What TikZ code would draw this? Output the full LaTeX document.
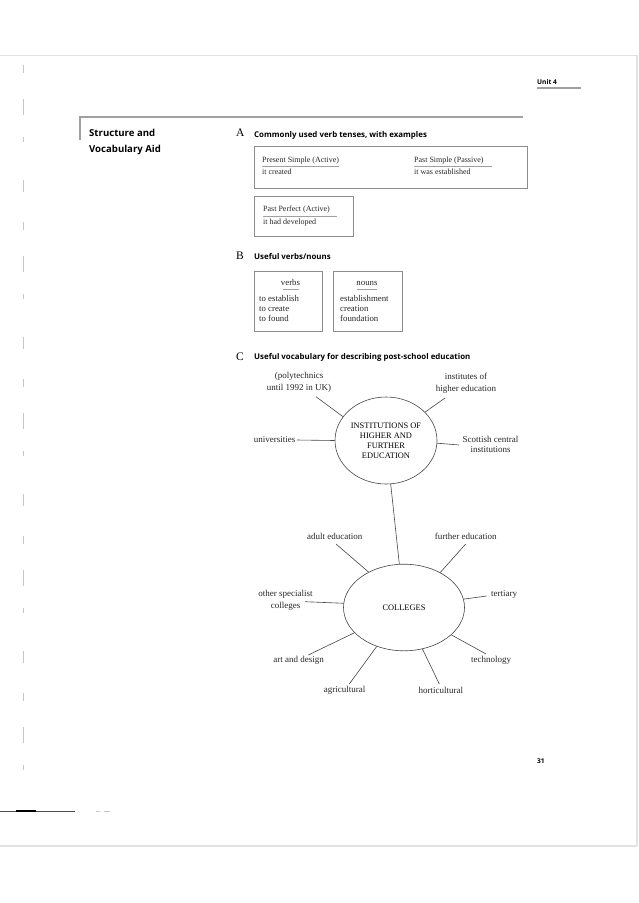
\documentclass[tikz,border=0pt]{standalone}
\usepackage{fontspec}
\setmainfont{Liberation Serif}
\newfontfamily\hsans{Open Sans}
\usetikzlibrary{shapes.geometric}
\definecolor{pageline}{HTML}{E2E2E2}
\definecolor{framegray}{HTML}{A0A0A0}
\definecolor{boxgray}{HTML}{8C8C8C}
\definecolor{ink}{HTML}{262626}
\definecolor{spoke}{HTML}{454545}
\definecolor{marks}{HTML}{C6C6C6}
\begin{document}
\begin{tikzpicture}[x=1pt,y=-1pt,
  boxtxt/.style={inner sep=0, anchor=west, text height=5.4pt, text depth=1.6pt, font=\fontsize{8}{9}\selectfont, text=ink},
  btxt/.style={inner sep=0, anchor=west, text height=5.8pt, text depth=1.8pt, font=\fontsize{8.8}{10}\selectfont, text=ink},
  bhead/.style={inner sep=0, text height=5.8pt, text depth=1.8pt, font=\fontsize{8.8}{10}\selectfont, text=ink},
  head/.style={inner sep=0, anchor=west, text height=5.8pt, text depth=1.6pt, font=\hsans\bfseries\fontsize{7.9}{9}\selectfont},
  bighead/.style={inner sep=0, anchor=west, text height=7pt, text depth=2pt, font=\hsans\bfseries\fontsize{9.6}{12}\selectfont},
  letter/.style={inner sep=0, anchor=west, text height=7.5pt, text depth=0pt, font=\fontsize{11.5}{12}\selectfont},
  frame/.style={draw=boxgray, line width=0.8pt, inner sep=0},
  uline/.style={draw=framegray, line width=0.7pt},
  bubble/.style={ellipse, draw=spoke, line width=0.6pt, inner sep=0},
  lab/.style={inner sep=0, align=center, font=\fontsize{9}{12}\selectfont, text=ink},
  caps/.style={inner sep=0, align=center, font=\fontsize{8.4}{10}\selectfont, text=black},
  spokeline/.style={draw=spoke, line width=0.6pt},
  small/.style={inner sep=0, anchor=west, text height=5pt, text depth=1.5pt, font=\hsans\bfseries\fontsize{6.6}{8}\selectfont},
]
\useasboundingbox (0,0) rectangle (638,903);
% page edges
\draw[pageline, line width=1.6pt] (0,55.5) -- (637,55.5) -- (637,846);
\draw[pageline, line width=1.6pt] (0,846) -- (637,846);
\draw[marks, line width=0.6pt, dash pattern=on 8pt off 26pt on 16pt off 22pt on 5pt off 38pt on 12pt off 30pt] (23,65) -- (23,780);
\draw[black!70, line width=0.9pt] (0,811) -- (75,811);
\draw[black, line width=1.8pt] (16,811) -- (36,811);
\draw[marks, line width=0.7pt] (96,811) -- (100,811) (104,811) -- (110,811);

% header
\node[small] (unit) at (537,82.5) {Unit 4};
\draw[framegray, line width=1.5pt] (537,88) -- (581,88);
\draw[framegray, line width=1.2pt] (80,140) -- (80,117) -- (523,117);
\node[bighead] (sva1) at (89,134) {Structure and};
\node[bighead] (sva2) at (89,150) {Vocabulary Aid};

% Section A
\node[letter] (la) at (236,133) {A};
\node[head] (ha) at (254,135.5) {Commonly used verb tenses, with examples};
\node[frame, minimum width=273pt, minimum height=42pt] (tensebox) at (390.5,167) {};
\node[boxtxt] (ps) at (262,160.5) {Present Simple (Active)};
\draw[uline] (262,166.5) -- (339,166.5);
\node[boxtxt] (ps2) at (262,173) {it created};
\node[boxtxt] (pas) at (414,160.5) {Past Simple (Passive)};
\draw[uline] (414,166.5) -- (492,166.5);
\node[boxtxt] (pas2) at (414,173) {it was established};
\node[frame, minimum width=99pt, minimum height=40pt] (perfbox) at (303.5,216) {};
\node[boxtxt] (pp) at (263,210) {Past Perfect (Active)};
\draw[uline] (263,216.3) -- (337,216.3);
\node[boxtxt] (pp2) at (263,222.5) {it had developed};

% Section B
\node[letter] (lb) at (236,256) {B};
\node[head] (hb) at (254,257) {Useful verbs/nouns};
\node[frame, minimum width=68pt, minimum height=60pt] (verbbox) at (288,301) {};
\node[frame, minimum width=69pt, minimum height=60pt] (nounbox) at (367.5,301) {};
\node[bhead] (verbs) at (290.5,283) {verbs};
\draw[uline] (282.5,289) -- (298.5,289);
\node[bhead] (nouns) at (367,283) {nouns};
\draw[uline] (357,289) -- (377,289);
\node[btxt] (v1) at (259,299) {to establish};
\node[btxt] (v2) at (259,309) {to create};
\node[btxt] (v3) at (259,319) {to found};
\node[btxt] (n1) at (340,299) {establishment};
\node[btxt] (n2) at (340,309) {creation};
\node[btxt] (n3) at (340,319) {foundation};

% Section C
\node[letter] (lc) at (236,356.5) {C};
\node[head] (hc) at (254,357.5) {Useful vocabulary for describing post-school education};

\node[bubble, minimum width=102pt, minimum height=87pt] (inst) at (386,440.5) {};
\node[caps] (insttext) at (386,440.5) {INSTITUTIONS OF\\HIGHER AND\\FURTHER\\EDUCATION};
\node[bubble, minimum width=121pt, minimum height=86.6pt] (coll) at (404,607.5) {};
\node[caps] (colltext) at (404,607.5) {COLLEGES};
\draw[spokeline] (inst) -- (coll);

% labels round the institutions
\node[lab] (poly) at (299,382) {(polytechnics\\until 1992 in UK)};
\node[lab] (iohe) at (466,383) {institutes of\\higher education};
\node[lab, anchor=east] (univ) at (295.5,440) {universities};
\node[lab, font=\fontsize{9}{10.3}\selectfont] (scot) at (490.5,444.5) {Scottish central\\institutions};
\coordinate (cpoly) at (316,396.7);
\coordinate (ciohe) at (445,398);
\coordinate (cuniv) at (297,440);
\coordinate (cscot) at (459,445);
\draw[spokeline] (cpoly) -- (inst.151);
\draw[spokeline] (ciohe) -- (inst.36);
\draw[spokeline] (cuniv) -- (inst.180);
\draw[spokeline] (cscot) -- (inst.-3);

% labels round the colleges
\node[lab] (adult) at (334.7,536.7) {adult education};
\node[lab] (further) at (465.7,536.7) {further education};
\node[lab] (other) at (285.5,600.3) {other specialist\\colleges};
\node[lab] (tert) at (504,594.3) {tertiary};
\node[lab] (art) at (298.7,660.7) {art and design};
\node[lab] (agri) at (344.7,690.7) {agricultural};
\node[lab] (hort) at (440.8,690) {horticultural};
\node[lab] (tech) at (491.2,660.7) {technology};
\coordinate (cadult) at (336,544);
\coordinate (cfurther) at (465.7,544);
\coordinate (cother) at (305,601.7);
\coordinate (ctert) at (486.7,596);
\coordinate (cart) at (308.3,655);
\coordinate (cagri) at (349.3,684);
\coordinate (chort) at (439.3,684);
\coordinate (ctech) at (486,654);
\draw[spokeline] (cadult) -- (coll.135.7);
\draw[spokeline] (cfurther) -- (coll.44.9);
\draw[spokeline] (cother) -- (coll.176.7);
\draw[spokeline] (ctert) -- (coll.8);
\draw[spokeline] (cart) -- (coll.207.8);
\draw[spokeline] (cagri) -- (coll.235.1);
\draw[spokeline] (chort) -- (coll.294.3);
\draw[spokeline] (ctech) -- (coll.330.2);

\node[small] (pagenum) at (537,762) {31};
\end{tikzpicture}
\end{document}
